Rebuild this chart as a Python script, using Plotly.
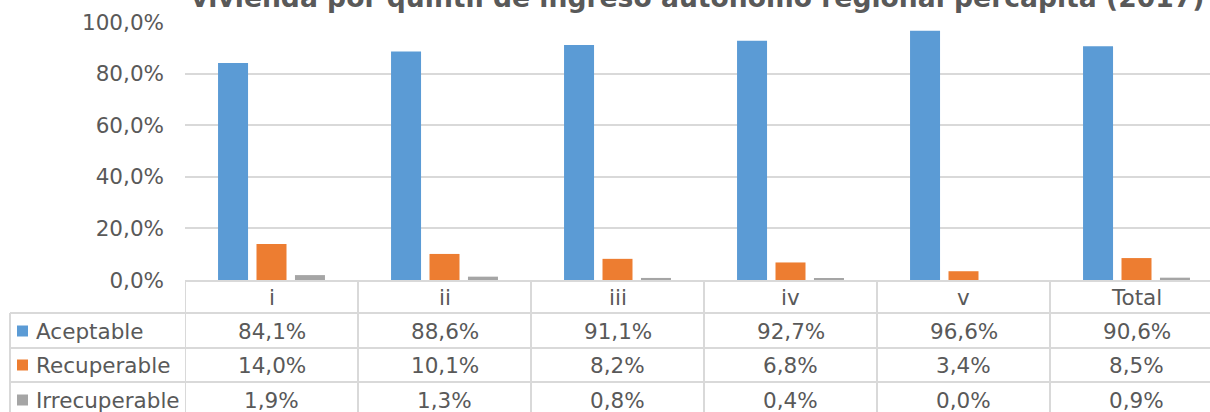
import plotly.graph_objects as go

# Quintiles and the share of dwellings in each condition category
categories = ["i", "ii", "iii", "iv", "v", "Total"]
series_names = ["Aceptable", "Recuperable", "Irrecuperable"]
aceptable = [84.1, 88.6, 91.1, 92.7, 96.6, 90.6]
recuperable = [14.0, 10.1, 8.2, 6.8, 3.4, 8.5]
irrecuperable = [1.9, 1.3, 0.8, 0.4, 0.0, 0.9]
series_values = [aceptable, recuperable, irrecuperable]
colors = ["#5B9BD5", "#ED7D31", "#A5A5A5"]
y_ticks = [0, 0.2, 0.4, 0.6, 0.8, 1.0]

title = "vivienda por quintil de ingreso autónomo regional percápita (2017)"

W, H = 1210, 412
L, R, T, B = 185, 0, 22, 132
plot_w = W - L - R
plot_h = H - T - B
col_w = 173.0
x_max = -0.5 + plot_w / col_w

TEXT = "#595959"
GRID = "#D9D9D9"
FONT = "DejaVu Sans"
FS = 21.5


def py(p):
    """pixel row -> paper y"""
    return (H - B - p) / plot_h


def px(p):
    """pixel column -> paper x"""
    return (p - L) / plot_w


def pct(v):
    return f"{v:.1f}%".replace(".", ",")


fig = go.Figure()
for name, vals, c in zip(series_names, series_values, colors):
    fig.add_trace(go.Bar(
        x=categories, y=[v / 100 for v in vals], name=name,
        marker=dict(color=c, line=dict(width=0)),
        showlegend=False,
    ))

# data table rows (pixel rows of the horizontal rules)
header_mid = 297
row_lines = [313, 348, 382]
row_mids = [331, 365, 400]

shapes = []
# horizontal rules under the header and between rows
for yl in row_lines:
    shapes.append(dict(type="line", xref="paper", yref="paper",
                       x0=px(10), x1=1.02, y0=py(yl), y1=py(yl),
                       line=dict(color=GRID, width=2)))
# left border of legend column
shapes.append(dict(type="line", xref="paper", yref="paper",
                   x0=px(10), x1=px(10), y0=py(row_lines[0]), y1=py(H + 5),
                   line=dict(color=GRID, width=2)))
# column separators
for k in range(len(categories)):
    shapes.append(dict(type="line", xref="x", yref="paper",
                       x0=k - 0.5, x1=k - 0.5, y0=0, y1=py(H + 5),
                       line=dict(color=GRID, width=2)))
# legend keys
for mid, c in zip(row_mids, colors):
    shapes.append(dict(type="rect", xref="paper", yref="paper",
                       x0=px(17), x1=px(28), y0=py(mid - 5.5), y1=py(mid + 5.5),
                       fillcolor=c, line=dict(width=0)))

annotations = []
for k, cat in enumerate(categories):
    annotations.append(dict(x=cat, xref="x", y=py(header_mid), yref="paper",
                            text=cat, showarrow=False, xanchor="center", yanchor="middle",
                            font=dict(family=FONT, size=FS, color=TEXT)))
for mid, name, vals in zip(row_mids, series_names, series_values):
    annotations.append(dict(x=px(34), xref="paper", y=py(mid), yref="paper",
                            text=name, showarrow=False, xanchor="left", yanchor="middle",
                            font=dict(family=FONT, size=FS, color=TEXT)))
    for cat, v in zip(categories, vals):
        annotations.append(dict(x=cat, xref="x", y=py(mid), yref="paper",
                                text=pct(v), showarrow=False, xanchor="center", yanchor="middle",
                                font=dict(family=FONT, size=FS, color=TEXT)))
# chart title (last line)
annotations.append(dict(x=px(697), xref="paper", y=py(-2.5), yref="paper",
                        text=f"<b>{title}</b>", showarrow=False,
                        xanchor="center", yanchor="middle",
                        font=dict(family=FONT, size=26.6, color=TEXT)))

fig.update_layout(
    width=W, height=H,
    margin=dict(l=L, r=R, t=T, b=B, pad=0),
    paper_bgcolor="white", plot_bgcolor="white",
    separators=",.",
    barmode="group", bargap=0.333, bargroupgap=0.22,
    font=dict(family=FONT, size=FS, color=TEXT),
    shapes=shapes, annotations=annotations,
    xaxis=dict(range=[-0.5, x_max], showticklabels=False, showgrid=False,
               showline=True, linecolor=GRID, linewidth=2, zeroline=False,
               fixedrange=True),
    yaxis=dict(range=[0, 1], tickvals=y_ticks, tickformat=".1%",
               showgrid=True, gridcolor=GRID, gridwidth=1.5, zeroline=False,
               showline=False, ticks="", ticklabelstandoff=20,
               tickfont=dict(family=FONT, size=FS, color=TEXT), fixedrange=True),
)

fig.write_html("out.html", config={"displayModeBar": False})
